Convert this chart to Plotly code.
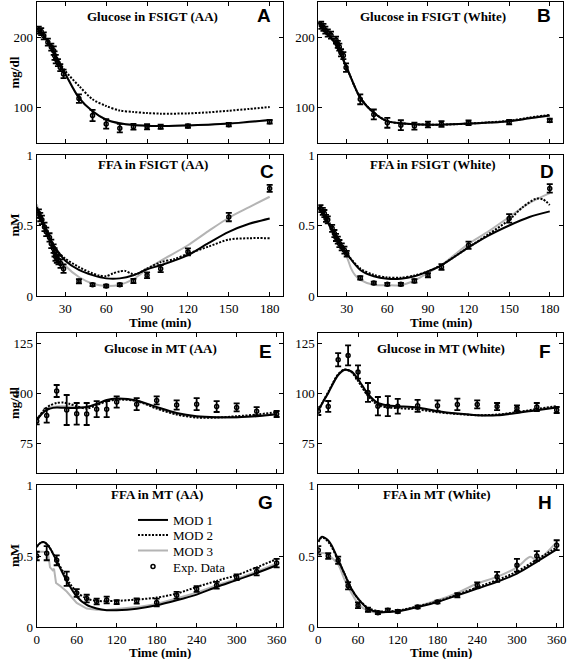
import plotly.graph_objects as go

# ---------------- data: FSIGT (A-D) ----------------
t_glu_fsigt_aa = [10.5, 12.3, 14.2, 17.2, 19.7, 21.5, 22.1, 23, 24.6, 26.3, 28.7, 40, 50, 60, 70, 80, 90, 100, 120, 150, 180]
glu_fsigt_aa = [210, 208, 202, 193, 186, 181, 174, 169, 164, 157, 148, 113, 89, 77, 71, 73, 73, 73, 74, 76, 80]
glu_fsigt_aa_err = [5, 5, 5, 5, 5, 6, 6, 6, 5, 5, 6, 6, 8, 6.7, 6, 4, 3.6, 3, 2.4, 2.4, 2.6]

t_glu_fsigt_w = [11.1, 12.8, 14.2, 16, 18.4, 22.1, 23.4, 24.5, 25.8, 27.5, 29.5, 40, 50, 60, 70, 80, 90, 100, 120, 150, 180]
glu_fsigt_w = [217, 214, 210, 206, 203, 196, 190, 186, 178, 174, 157, 112, 90.5, 78.6, 75.3, 74, 76.2, 77, 78.6, 79.6, 82]
glu_fsigt_w_err = [5, 5, 5, 5, 5, 5, 5, 5, 5, 5, 6, 7, 7, 7, 7, 5, 4, 4, 3.3, 3.3, 2.4]

t_ffa_fsigt_aa = [10.6, 11.6, 12.8, 14.7, 16, 18.4, 19.7, 21.4, 22.1, 22.8, 23.8, 25, 26.5, 28.7, 40, 50, 60, 70, 80, 90, 100, 120, 150, 180]
ffa_fsigt_aa = [0.585, 0.56, 0.54, 0.49, 0.455, 0.415, 0.37, 0.336, 0.31, 0.28, 0.265, 0.254, 0.23, 0.194, 0.104, 0.08, 0.071, 0.08, 0.107, 0.147, 0.194, 0.313, 0.56, 0.763]
ffa_fsigt_aa_err = [0.03, 0.03, 0.03, 0.03, 0.03, 0.03, 0.03, 0.03, 0.03, 0.03, 0.03, 0.03, 0.03, 0.03, 0.015, 0.01, 0.01, 0.01, 0.015, 0.02, 0.025, 0.025, 0.03, 0.025]

t_ffa_fsigt_w = [10.6, 12.3, 13.5, 14.7, 16, 19.2, 20.9, 22.1, 23.4, 24.6, 26.3, 28.3, 30, 40, 50, 60, 70, 80, 90, 100, 120, 150, 180]
ffa_fsigt_w = [0.62, 0.6, 0.585, 0.55, 0.54, 0.48, 0.443, 0.415, 0.396, 0.372, 0.348, 0.325, 0.30, 0.128, 0.092, 0.083, 0.083, 0.107, 0.147, 0.206, 0.36, 0.55, 0.763]
ffa_fsigt_w_err = [0.025, 0.025, 0.025, 0.025, 0.025, 0.025, 0.025, 0.025, 0.025, 0.025, 0.025, 0.025, 0.02, 0.012, 0.01, 0.01, 0.01, 0.012, 0.015, 0.02, 0.025, 0.03, 0.03]

# model curves (FSIGT)
t_fsigt_mod = [9, 15, 20, 25, 30, 40, 50, 60, 70, 80, 90, 100, 120, 135, 150, 165, 180]
glu_aa_mod1 = [213, 200, 185, 165, 148, 114, 95, 83, 78, 75.5, 74.5, 74, 75, 76, 77.5, 80, 82.5]
glu_aa_mod2 = [213, 200, 185, 166, 152, 131, 112, 102.5, 96, 94, 92.5, 91.6, 92, 93.5, 95.8, 98.3, 101]
glu_aa_mod3 = [213, 200, 185, 165, 148.5, 114.5, 95.5, 83.5, 78, 75.5, 74.5, 74, 75, 76, 77.5, 79.8, 82.2]
glu_w_mod1 = [221, 207, 195, 178, 157, 114, 93, 81, 78, 76.5, 76, 76, 77.5, 79, 81, 85, 89]
glu_w_mod2 = [221, 207, 195, 178, 157, 114, 93, 81, 78, 76.5, 76, 76, 77.5, 79.3, 81.5, 86, 90]
glu_w_mod3 = [221, 207, 195, 178, 157, 114, 93, 81, 78, 76.5, 76, 76, 77.5, 79, 81, 85, 89]

ffa_aa_mod1 = [0.63, 0.49, 0.38, 0.31, 0.25, 0.185, 0.148, 0.125, 0.125, 0.147, 0.19, 0.218, 0.29, 0.375, 0.455, 0.512, 0.55]
t_ffa_aa_mod2 = [9, 15, 20, 25, 30, 40, 50, 55, 60, 65, 70, 74, 78, 82, 90, 100, 110, 120, 135, 150, 165, 180]
ffa_aa_mod2 = [0.62, 0.48, 0.38, 0.31, 0.265, 0.205, 0.16, 0.145, 0.14, 0.16, 0.175, 0.178, 0.16, 0.155, 0.195, 0.24, 0.262, 0.3, 0.35, 0.40, 0.41, 0.41]
ffa_aa_mod3 = [0.65, 0.48, 0.36, 0.28, 0.215, 0.135, 0.088, 0.071, 0.08, 0.12, 0.19, 0.25, 0.36, 0.46, 0.555, 0.63, 0.704]

ffa_w_mod1 = [0.63, 0.54, 0.45, 0.37, 0.30, 0.185, 0.14, 0.123, 0.123, 0.14, 0.175, 0.218, 0.345, 0.43, 0.50, 0.56, 0.60]
t_ffa_w_mod2 = [9, 15, 20, 25, 30, 40, 50, 60, 70, 80, 90, 100, 120, 135, 150, 160, 170, 175, 180]
ffa_w_mod2 = [0.63, 0.54, 0.45, 0.37, 0.30, 0.195, 0.15, 0.132, 0.13, 0.145, 0.175, 0.22, 0.345, 0.44, 0.54, 0.63, 0.69, 0.685, 0.645]
t_ffa_w_mod3 = [9, 15, 20, 25, 30, 33, 36, 40, 50, 60, 70, 80, 90, 100, 120, 135, 150, 165, 180]
ffa_w_mod3 = [0.63, 0.54, 0.45, 0.37, 0.28, 0.2, 0.15, 0.115, 0.08, 0.076, 0.077, 0.11, 0.165, 0.22, 0.37, 0.46, 0.56, 0.66, 0.73]

# ---------------- data: MT (E-H) ----------------
t_mt = [0, 15, 30, 45, 60, 75, 90, 105, 120, 150, 180, 210, 240, 270, 300, 330, 360]
glu_mt_aa = [86, 88.7, 101, 91.5, 89.6, 89.5, 91.9, 91.9, 95.5, 94.4, 96.3, 94, 94.4, 93.2, 92.8, 90.9, 89.5]
glu_mt_aa_err = [1.7, 3.5, 3, 7.5, 5.4, 5.5, 4, 4, 2.8, 3, 2, 2.3, 3, 2.7, 2, 2, 1.5]
glu_mt_w = [91, 93.3, 116.6, 118.8, 110.5, 100.3, 93.4, 93.4, 93.4, 93.6, 93.6, 94.3, 94.3, 93.2, 92.4, 93, 91.5]
glu_mt_w_err = [2, 2.7, 3.3, 5, 3.3, 4.7, 4.6, 5, 3.7, 3, 2.7, 2.9, 2, 1.8, 1.4, 2, 1.5]
ffa_mt_aa = [0.50, 0.52, 0.47, 0.34, 0.24, 0.20, 0.18, 0.19, 0.175, 0.183, 0.173, 0.224, 0.267, 0.294, 0.35, 0.39, 0.45]
ffa_mt_aa_err = [0.03, 0.05, 0.035, 0.05, 0.027, 0.027, 0.02, 0.024, 0.014, 0.018, 0.027, 0.024, 0.02, 0.024, 0.02, 0.027, 0.03]
ffa_mt_w = [0.54, 0.50, 0.47, 0.29, 0.153, 0.122, 0.10, 0.118, 0.11, 0.141, 0.176, 0.224, 0.294, 0.353, 0.435, 0.50, 0.576]
ffa_mt_w_err = [0.03, 0.02, 0.025, 0.025, 0.02, 0.015, 0.01, 0.012, 0.01, 0.01, 0.01, 0.015, 0.02, 0.035, 0.045, 0.035, 0.035]

t_mt_mod = [0, 5, 10, 15, 20, 30, 40, 50, 60, 75, 90, 105, 120, 150, 180, 210, 240, 270, 300, 330, 360]
gmt_aa_mod1 = [86.7, 88.5, 90.3, 91.4, 92.2, 92.7, 92.6, 92.5, 92.5, 93, 94.5, 96.5, 97.2, 96.3, 93, 90, 88.4, 87.9, 87.9, 88.4, 89.4]
gmt_aa_mod2 = [86.7, 89, 91.2, 92.7, 93.8, 95, 95.2, 94.5, 93.4, 92.2, 93.9, 95.8, 96.7, 96, 92.2, 89.2, 87.7, 87.7, 88.4, 89.2, 90.5]
gmt_aa_mod3 = [86.7, 88.7, 90.6, 91.8, 92.6, 93.3, 93.4, 93.2, 93, 93, 94.5, 96.3, 97, 96, 92.5, 89.5, 88, 87.7, 87.8, 88.5, 89.8]
gmt_w_mod1 = [91.4, 94.2, 97.2, 100, 103.3, 109, 111.6, 110.8, 107, 99.5, 95, 93.8, 93.4, 92.7, 90.9, 89.7, 88.9, 88.9, 90, 91.4, 92.7]
gmt_w_mod2 = [91.4, 94.4, 97.5, 100.5, 103.7, 109.4, 111.8, 110.5, 106, 98.5, 94, 92.8, 92.4, 91.8, 90.4, 89.5, 88.9, 89.2, 90.4, 92, 93.4]
gmt_w_mod3 = [91.4, 94.2, 97.2, 100, 103.3, 109, 111.5, 110.6, 106.5, 99, 94.5, 93.3, 93, 92.3, 90.6, 89.6, 88.9, 89, 90.2, 91.7, 93]

fmt_aa_mod1 = [0.565, 0.59, 0.598, 0.585, 0.555, 0.465, 0.37, 0.285, 0.215, 0.155, 0.13, 0.118, 0.118, 0.129, 0.153, 0.188, 0.228, 0.282, 0.33, 0.38, 0.435]
fmt_aa_mod2 = [0.565, 0.59, 0.598, 0.585, 0.555, 0.47, 0.385, 0.305, 0.247, 0.2, 0.184, 0.182, 0.184, 0.193, 0.207, 0.235, 0.282, 0.325, 0.365, 0.42, 0.478]
t_fmt_aa_mod3 = [0, 10, 17, 20, 24, 26, 29, 35, 45, 60, 75, 90, 105, 120, 150, 180, 210, 240, 270, 300, 330, 360]
fmt_aa_mod3 = [0.53, 0.53, 0.52, 0.42, 0.40, 0.41, 0.31, 0.29, 0.25, 0.17, 0.13, 0.122, 0.12, 0.125, 0.14, 0.162, 0.2, 0.242, 0.294, 0.338, 0.39, 0.447]
fmt_w_mod1 = [0.60, 0.635, 0.628, 0.61, 0.575, 0.475, 0.37, 0.27, 0.20, 0.13, 0.106, 0.106, 0.11, 0.141, 0.176, 0.224, 0.27, 0.318, 0.376, 0.459, 0.546]
fmt_w_mod2 = [0.60, 0.63, 0.622, 0.6, 0.565, 0.47, 0.37, 0.27, 0.2, 0.135, 0.112, 0.11, 0.115, 0.145, 0.18, 0.228, 0.28, 0.33, 0.39, 0.475, 0.56]
t_fmt_w_mod3 = [0, 10, 15, 20, 30, 40, 50, 60, 75, 90, 105, 120, 150, 180, 210, 240, 270, 300, 320, 330, 360]
fmt_w_mod3 = [0.52, 0.52, 0.51, 0.49, 0.44, 0.33, 0.24, 0.165, 0.113, 0.099, 0.105, 0.113, 0.146, 0.188, 0.24, 0.306, 0.353, 0.42, 0.494, 0.47, 0.60]

model_names = ["MOD 1", "MOD 2", "MOD 3"]
data_name = "Exp. Data"

# ---------------- panels ----------------
panels = [
    dict(letter="A", title="Glucose in FSIGT (AA)", kind="fsigt", t=t_glu_fsigt_aa, y=glu_fsigt_aa, e=glu_fsigt_aa_err,
         mods=[(t_fsigt_mod, glu_aa_mod3), (t_fsigt_mod, glu_aa_mod2), (t_fsigt_mod, glu_aa_mod1)], yr=[50, 250], dt=100),
    dict(letter="B", title="Glucose in FSIGT (White)", kind="fsigt", t=t_glu_fsigt_w, y=glu_fsigt_w, e=glu_fsigt_w_err,
         mods=[(t_fsigt_mod, glu_w_mod3), (t_fsigt_mod, glu_w_mod2), (t_fsigt_mod, glu_w_mod1)], yr=[50, 250], dt=100),
    dict(letter="C", title="FFA in FSIGT (AA)", kind="fsigt", t=t_ffa_fsigt_aa, y=ffa_fsigt_aa, e=ffa_fsigt_aa_err,
         mods=[(t_fsigt_mod, ffa_aa_mod3), (t_ffa_aa_mod2, ffa_aa_mod2), (t_fsigt_mod, ffa_aa_mod1)], yr=[0, 1], dt=0.5),
    dict(letter="D", title="FFA in FSIGT (White)", kind="fsigt", t=t_ffa_fsigt_w, y=ffa_fsigt_w, e=ffa_fsigt_w_err,
         mods=[(t_ffa_w_mod3, ffa_w_mod3), (t_ffa_w_mod2, ffa_w_mod2), (t_fsigt_mod, ffa_w_mod1)], yr=[0, 1], dt=0.5),
    dict(letter="E", title="Glucose in MT (AA)", kind="mt", t=t_mt, y=glu_mt_aa, e=glu_mt_aa_err,
         mods=[(t_mt_mod, gmt_aa_mod3), (t_mt_mod, gmt_aa_mod2), (t_mt_mod, gmt_aa_mod1)], yr=[60, 130], dt=25),
    dict(letter="F", title="Glucose in MT (White)", kind="mt", t=t_mt, y=glu_mt_w, e=glu_mt_w_err,
         mods=[(t_mt_mod, gmt_w_mod3), (t_mt_mod, gmt_w_mod2), (t_mt_mod, gmt_w_mod1)], yr=[60, 130], dt=25),
    dict(letter="G", title="FFA in MT (AA)", kind="mt", t=t_mt, y=ffa_mt_aa, e=ffa_mt_aa_err,
         mods=[(t_fmt_aa_mod3, fmt_aa_mod3), (t_mt_mod, fmt_aa_mod2), (t_mt_mod, fmt_aa_mod1)], yr=[0, 1], dt=0.5),
    dict(letter="H", title="FFA in MT (White)", kind="mt", t=t_mt, y=ffa_mt_w, e=ffa_mt_w_err,
         mods=[(t_fmt_w_mod3, fmt_w_mod3), (t_mt_mod, fmt_w_mod2), (t_mt_mod, fmt_w_mod1)], yr=[0, 1], dt=0.5),
]

W, H = 567, 659
cols_px = [(36.7, 283.3), (318.3, 563.3)]
rows_px = [(2, 143), (155, 296), (333, 473), (485, 627)]
xtitle_gap = {1: 26.5, 3: 25.5}
title_pos = [(0.47, 0.895), (0.47, 0.895), (0.47, 0.93), (0.47, 0.93), (0.5, 0.89), (0.5, 0.89), (0.487, 0.93), (0.484, 0.93)]
letter_pos = [(0.92, 0.905), (0.92, 0.905), (0.935, 0.885), (0.935, 0.885), (0.927, 0.865), (0.927, 0.865), (0.927, 0.88), (0.927, 0.88)]

SERIF = '"Liberation Serif", "Times New Roman", Times, serif'
SANS = '"Liberation Sans", Arial, sans-serif'
GRAY = "#b4b4b4"
styles = [dict(color=GRAY, width=2, dash="solid"),
          dict(color="black", width=2, dash="2px,1.5px"),
          dict(color="black", width=2, dash="solid")]
mod_idx = [2, 1, 0]  # order drawn: MOD3, MOD2, MOD1

# one small legend per entry (library legends), stacked inside panel G
legend_keys = ["legend", "legend2", "legend3", "legend4"]   # MOD1, MOD2, MOD3, Exp. Data
legend_rows_px = [520, 535, 550.5, 566.5]

fig = go.Figure()
layout = dict(width=W, height=H, margin=dict(l=0, r=0, t=0, b=0, pad=0, autoexpand=False),
              paper_bgcolor="white", plot_bgcolor="white", showlegend=True,
              font=dict(family=SERIF, size=13, color="black"),
              annotations=[])
for key, ypx in zip(legend_keys, legend_rows_px):
    layout[key] = dict(x=133 / W, y=1 - ypx / H, xanchor="left", yanchor="middle",
                       font=dict(family=SERIF, size=13, color="black"),
                       bgcolor="rgba(0,0,0,0)", itemwidth=30, tracegroupgap=0, borderwidth=0)

for i, p in enumerate(panels):
    n = i + 1
    sfx = "" if n == 1 else str(n)
    r, c = divmod(i, 2)
    xa, ya = f"x{sfx}", f"y{sfx}"
    legend_on = (p["letter"] == "G")
    for k, (tm, vm) in enumerate(p["mods"]):
        shape = "linear" if (k == 0 and p["letter"] in ("G",)) else "spline"
        fig.add_trace(go.Scatter(x=tm, y=vm, mode="lines", xaxis=xa, yaxis=ya,
                                 line=dict(shape=shape, smoothing=0.8, **styles[k]),
                                 name=model_names[mod_idx[k]], showlegend=legend_on,
                                 legend=legend_keys[mod_idx[k]], hoverinfo="skip"))
    fig.add_trace(go.Scatter(x=p["t"], y=p["y"], mode="markers", xaxis=xa, yaxis=ya,
                             marker=dict(symbol="circle-open", size=4, color="black", line=dict(width=1.5, color="black")),
                             error_y=dict(type="data", array=p["e"], visible=True, color="black", thickness=1.8, width=3),
                             name=data_name, showlegend=legend_on, legend=legend_keys[3]))

    x0, x1 = cols_px[c]
    y0, y1 = rows_px[r]
    common = dict(showline=True, linecolor="black", linewidth=1, mirror="allticks", ticks="inside",
                  ticklen=4, tickcolor="black", showgrid=False, zeroline=False, automargin=False,
                  tickfont=dict(family=SERIF, size=13, color="black"))
    if p["kind"] == "fsigt":
        xr, xt = [9, 190], [30, 60, 90, 120, 150, 180]
    else:
        xr, xt = [0, 370], [0, 60, 120, 180, 240, 300, 360]
    layout[f"xaxis{sfx}"] = dict(domain=[x0 / W, x1 / W], range=xr, tickvals=xt, anchor=ya,
                                 showticklabels=(r in (1, 3)), **common)
    layout[f"yaxis{sfx}"] = dict(domain=[1 - y1 / H, 1 - y0 / H], range=p["yr"], dtick=p["dt"], tick0=0,
                                 anchor=xa, **common)
    tx, ty = title_pos[i]
    lx, ly = letter_pos[i]
    layout["annotations"].append(dict(text=f"<b>{p['title']}</b>", xref=f"{xa} domain", yref=f"{ya} domain",
                                      x=tx, y=ty, showarrow=False, xanchor="center", yanchor="middle",
                                      font=dict(family=SERIF, size=13, color="black")))
    layout["annotations"].append(dict(text=f"<b>{p['letter']}</b>", xref=f"{xa} domain", yref=f"{ya} domain",
                                      x=lx, y=ly, showarrow=False, xanchor="center", yanchor="middle",
                                      font=dict(family=SANS, size=19, color="black")))
    if c == 0:
        yt = "mg/dl" if p["yr"][1] > 2 else "mM"
        layout["annotations"].append(dict(text=f"<b>{yt}</b>", xref="paper", yref="paper",
                                          x=14 / W, y=1 - (y0 + y1) / 2 / H, textangle=-90, showarrow=False,
                                          xanchor="center", yanchor="middle",
                                          font=dict(family=SERIF, size=13, color="black")))
    if r in (1, 3):
        layout["annotations"].append(dict(text="<b>Time (min)</b>", xref="paper", yref="paper",
                                          x=((x0 + x1) / 2) / W, y=1 - (y1 + xtitle_gap[r]) / H, showarrow=False,
                                          xanchor="center", yanchor="middle",
                                          font=dict(family=SERIF, size=13, color="black")))

fig.update_layout(**layout)
fig.write_html("out.html", config={"displayModeBar": False},
               post_script="document.body.style.margin='0';document.body.style.overflow='hidden';")
